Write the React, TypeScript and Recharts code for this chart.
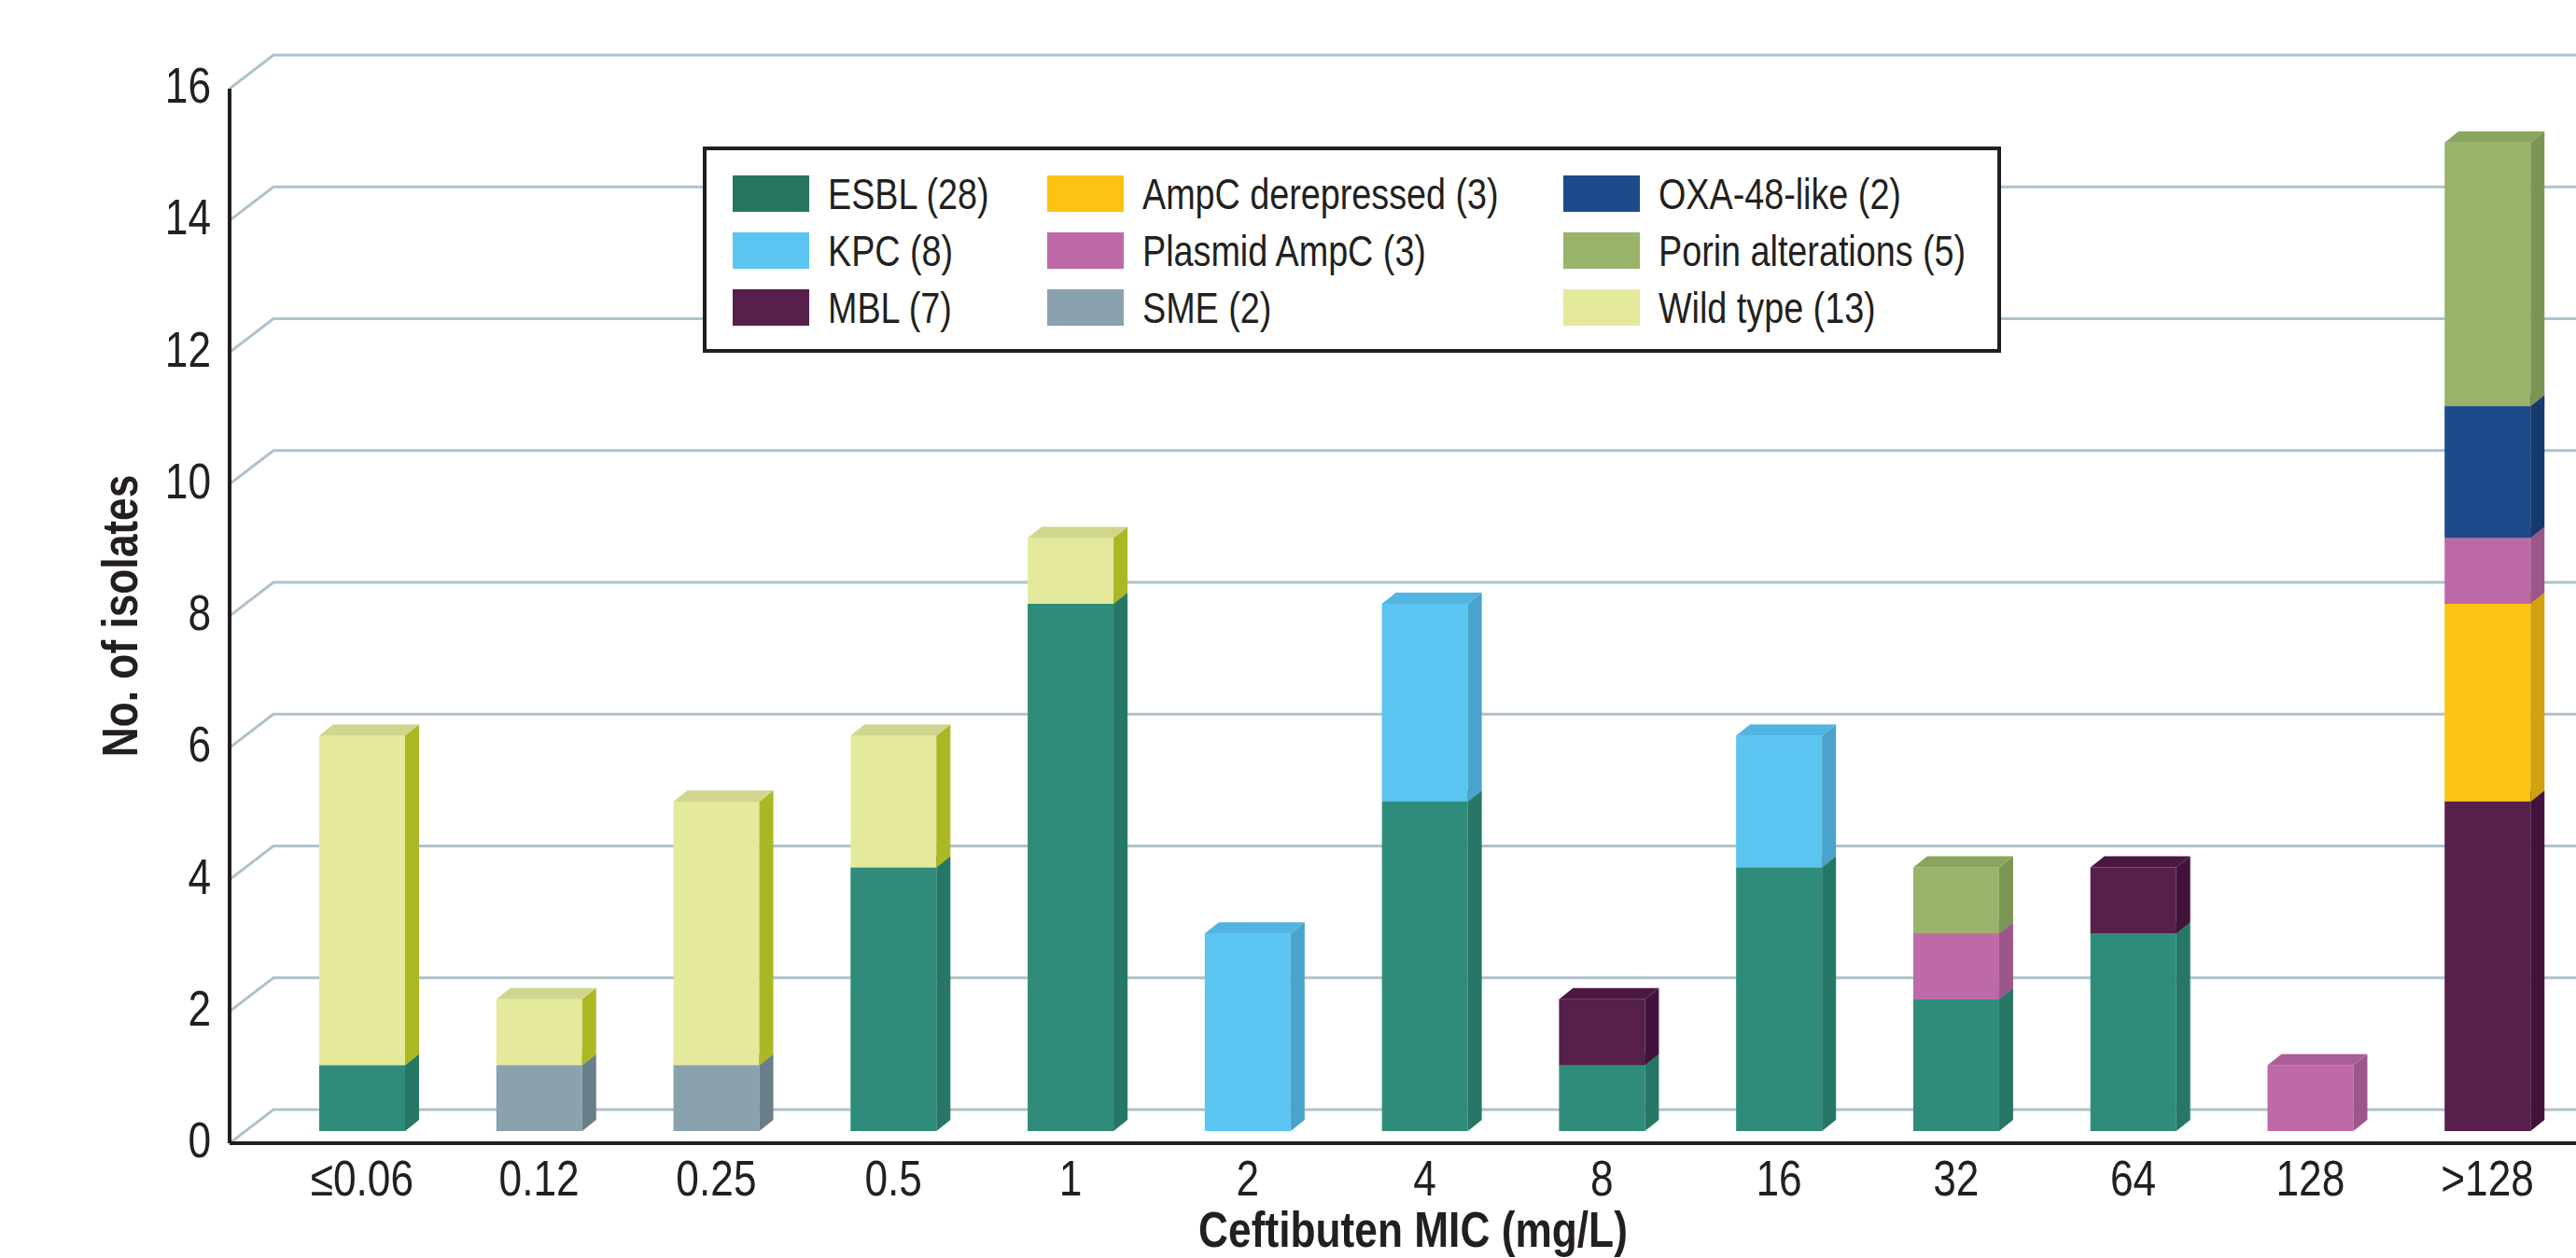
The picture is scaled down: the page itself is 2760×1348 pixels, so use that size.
import React from 'react';
import { BarChart, Bar, XAxis, YAxis, CartesianGrid, Legend } from 'recharts';

// MIC categories (mg/L)
const categories = ['≤0.06', '0.12', '0.25', '0.5', '1', '2', '4', '8', '16', '32', '64', '128', '>128'];

// isolates per mechanism at each MIC
const esbl = [1, 0, 0, 4, 8, 0, 5, 1, 4, 2, 3, 0, 0];
const sme = [0, 1, 1, 0, 0, 0, 0, 0, 0, 0, 0, 0, 0];
const kpc = [0, 0, 0, 0, 0, 3, 3, 0, 2, 0, 0, 0, 0];
const mbl = [0, 0, 0, 0, 0, 0, 0, 1, 0, 0, 1, 0, 5];
const ampcDerepressed = [0, 0, 0, 0, 0, 0, 0, 0, 0, 0, 0, 0, 3];
const plasmidAmpc = [0, 0, 0, 0, 0, 0, 0, 0, 0, 1, 0, 1, 1];
const oxa48 = [0, 0, 0, 0, 0, 0, 0, 0, 0, 0, 0, 0, 2];
const porin = [0, 0, 0, 0, 0, 0, 0, 0, 0, 1, 0, 0, 4];
const wildType = [5, 1, 4, 2, 1, 0, 0, 0, 0, 0, 0, 0, 0];

const yTicks = [0, 2, 4, 6, 8, 10, 12, 14, 16];

// stacking order, bottom to top
const SERIES = [
  { key: 'esbl', name: 'ESBL (28)', values: esbl, front: '#2F8C7A', side: '#267765', top: '#2A806E', swatch: '#26755F' },
  { key: 'sme', name: 'SME (2)', values: sme, front: '#8AA1AE', side: '#6A7E89', top: '#7D939F', swatch: '#8AA1AE' },
  { key: 'kpc', name: 'KPC (8)', values: kpc, front: '#5BC4F1', side: '#4AA3CC', top: '#52B4E0', swatch: '#5BC4F1' },
  { key: 'mbl', name: 'MBL (7)', values: mbl, front: '#561F4C', side: '#42133A', top: '#4A1842', swatch: '#561F4C' },
  { key: 'ampc', name: 'AmpC derepressed (3)', values: ampcDerepressed, front: '#FCC314', side: '#D2A10E', top: '#E6B212', swatch: '#FCC314' },
  { key: 'plasmid', name: 'Plasmid AmpC (3)', values: plasmidAmpc, front: '#BE69A8', side: '#9D568B', top: '#AA5E97', swatch: '#BE69A8' },
  { key: 'oxa', name: 'OXA-48-like (2)', values: oxa48, front: '#1D4A8A', side: '#163A70', top: '#1A427D', swatch: '#1D4A8A' },
  { key: 'porin', name: 'Porin alterations (5)', values: porin, front: '#99B46A', side: '#7B9653', top: '#89A45C', swatch: '#99B46A' },
  { key: 'wild', name: 'Wild type (13)', values: wildType, front: '#E5E99C', side: '#ABB823', top: '#D0D68D', swatch: '#E5E99C' },
];

// legend is read column by column
const LEGEND_ORDER = ['esbl', 'kpc', 'mbl', 'ampc', 'plasmid', 'sme', 'oxa', 'porin', 'wild'];

const data = categories.map((mic, i) => {
  const row: Record<string, string | number> = { mic };
  SERIES.forEach((s) => {
    row[s.key] = s.values[i];
  });
  return row;
});

// no condensed face installed, so squeeze the regular one
const FONT = "'Liberation Sans', Arial, sans-serif";
const SQUEEZE = 0.82;
const INK = '#231F20';
const GRID = '#AEC2CC';

const BAR_DX = 15;
const BAR_DY = 12;
const BAR_LIFT = 13;
const GRID_DX = 47;
const GRID_DY = 36;

const make3DBar = (front: string, side: string, top: string) => (props: any) => {
  const { x, width, height } = props;
  if (!height || height <= 0) return <g />;
  const y = props.y - BAR_LIFT;
  const r = x + width;
  return (
    <g>
      <rect x={x} y={y} width={width} height={height} fill={front} />
      <polygon
        points={`${r},${y + height} ${r + BAR_DX},${y + height - BAR_DY} ${r + BAR_DX},${y - BAR_DY} ${r},${y}`}
        fill={side}
      />
      <polygon points={`${x},${y} ${x + BAR_DX},${y - BAR_DY} ${r + BAR_DX},${y - BAR_DY} ${r},${y}`} fill={top} />
    </g>
  );
};

const gridLine = (props: any) => {
  const { x1, y1, x2 } = props;
  return (
    <polyline
      key={props.key}
      points={`${x1},${y1} ${x1 + GRID_DX},${y1 - GRID_DY} ${x2},${y1 - GRID_DY}`}
      fill="none"
      stroke={GRID}
      strokeWidth={3}
    />
  );
};

const XTick = (props: any) => {
  const { x, y, payload } = props;
  return (
    <text transform={`translate(${x},${y}) scale(${SQUEEZE},1)`} textAnchor="middle" dy="0.71em" fontFamily={FONT} fontSize={54} fill={INK}>
      {payload.value}
    </text>
  );
};

const YTick = (props: any) => {
  const { x, y, payload } = props;
  return (
    <text transform={`translate(${x},${y - 4}) scale(${SQUEEZE},1)`} textAnchor="end" dy="0.355em" fontFamily={FONT} fontSize={54} fill={INK}>
      {payload.value}
    </text>
  );
};

const YTitle = (props: any) => {
  const { viewBox } = props;
  const cx = viewBox.x + 128;
  const cy = viewBox.y + viewBox.height / 2;
  return (
    <text
      transform={`translate(${cx},${cy}) rotate(-90) scale(${SQUEEZE},1)`}
      textAnchor="middle"
      dominantBaseline="central"
      fontFamily={FONT}
      fontWeight="bold"
      fontSize={54}
      fill={INK}
    >
      No. of isolates
    </text>
  );
};

const XTitle = (props: any) => {
  const { viewBox } = props;
  return (
    <text
      transform={`translate(${viewBox.x + viewBox.width / 2 + 11},1336) scale(${SQUEEZE},1)`}
      textAnchor="middle"
      fontFamily={FONT}
      fontWeight="bold"
      fontSize={54}
      fill={INK}
    >
      Ceftibuten MIC (mg/L)
    </text>
  );
};

const LegendBox = () => {
  const items = LEGEND_ORDER.map((k) => SERIES.find((s) => s.key === k)!);
  return (
    <div
      style={{
        boxSizing: 'border-box',
        width: 1391,
        height: 221,
        border: `4px solid ${INK}`,
        background: '#fff',
        padding: '16px 0 0 28px',
        display: 'grid',
        gridTemplateColumns: '337px 553px 1fr',
        gridTemplateRows: 'repeat(3, 61px)',
        gridAutoFlow: 'column',
        fontFamily: FONT,
        fontSize: 46,
        color: INK,
      }}
    >
      {items.map((s) => (
        <div key={s.key} style={{ display: 'flex', alignItems: 'center', whiteSpace: 'nowrap' }}>
          <span style={{ display: 'inline-block', flex: 'none', width: 82, height: 39, background: s.swatch, marginRight: 20 }} />
          <span style={{ display: 'inline-block', transform: `scaleX(${SQUEEZE})`, transformOrigin: 'left center' }}>{s.name}</span>
        </div>
      ))}
    </div>
  );
};

export default function App() {
  return (
    <div style={{ position: 'absolute', left: 0, top: 0, width: 2760, height: 1348, background: '#fff', overflow: 'hidden' }}>
      <BarChart width={2760} height={1348} data={data} margin={{ top: 95, right: 0, bottom: 0, left: 0 }} barSize={92}>
        <CartesianGrid vertical={false} horizontal={gridLine} />
        <XAxis
          dataKey="mic"
          height={123}
          padding={{ left: 47, right: 0 }}
          axisLine={{ stroke: INK, strokeWidth: 4 }}
          tickLine={false}
          tickSize={0}
          tickMargin={18}
          interval={0}
          tick={<XTick />}
          label={<XTitle />}
        />
        <YAxis
          width={246}
          domain={[0, 16]}
          ticks={yTicks}
          allowDataOverflow
          axisLine={{ stroke: INK, strokeWidth: 4 }}
          tickLine={false}
          tickSize={0}
          tickMargin={20}
          tick={<YTick />}
          label={<YTitle />}
        />
        <Legend
          layout="horizontal"
          verticalAlign="middle"
          align="center"
          wrapperStyle={{ left: 753, top: 157, width: 1391, height: 221 }}
          content={<LegendBox />}
        />
        {SERIES.map((s) => (
          <Bar
            key={s.key}
            dataKey={s.key}
            name={s.name}
            stackId="mic"
            fill={s.front}
            isAnimationActive={false}
            shape={make3DBar(s.front, s.side, s.top)}
          />
        ))}
      </BarChart>
    </div>
  );
}
